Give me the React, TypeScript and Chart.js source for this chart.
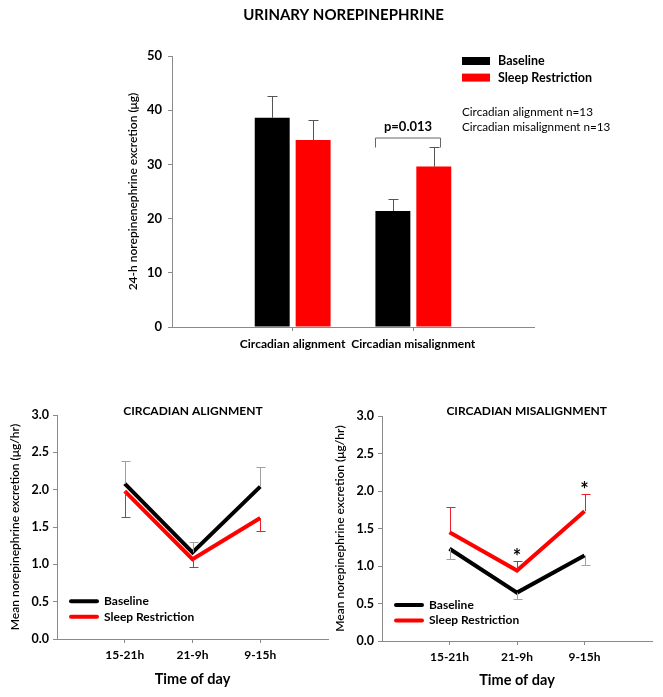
import React, { useEffect, useRef } from 'react';
import { Chart, registerables } from 'chart.js';

Chart.register(...registerables);

const FONT = 'Lato, "Liberation Sans", Arial, sans-serif';
const AXIS = '#8a8a8a';
const RED = '#ff0000';

// ---------- Top bar chart data ----------
const barCategories = ['Circadian alignment', 'Circadian misalignment'];
const barBaseline = [38.6, 21.4];
const barBaselineErr = [4.1, 2.2];
const barSleep = [34.5, 29.6];
const barSleepErr = [3.6, 3.7];
const barTicks = [0, 10, 20, 30, 40, 50];

// ---------- Bottom line charts data ----------
const timeLabels = ['15-21h', '21-9h', '9-15h'];
const alignBaseline = [2.08, 1.16, 2.04];
const alignBaselineErr = [0.3, 0.14, 0.26];
const alignSleep = [1.98, 1.07, 1.62];
const alignSleepErr = [0.35, 0.11, 0.17];
const misBaseline = [1.23, 0.645, 1.14];
const misBaselineErr = [0.13, 0.08, 0.13];
const misSleep = [1.45, 0.94, 1.73];
const misSleepErr = [0.34, 0.13, 0.23];
const misSignificant = [false, true, true];

function text(ctx: CanvasRenderingContext2D, s: string, x: number, y: number, font: string, align: CanvasTextAlign = 'left', color = '#000') {
  ctx.save();
  ctx.font = font;
  ctx.fillStyle = color;
  ctx.textAlign = align;
  ctx.textBaseline = 'middle';
  ctx.fillText(s, x, y);
  ctx.restore();
}

function font(size: number, weight = 'bold') {
  return { family: FONT, size, weight } as any;
}

type LineCfg = {
  title: string;
  baseline: number[];
  baselineErr: number[];
  baselineDir: number;
  sleep: number[];
  sleepErr: number[];
  sleepDir: number;
  significant?: boolean[];
  pad: { top: number; right: number };
  yWidth: number;
  xHeight: number;
  yTitlePad: number;
  xTitlePad: number;
  titleX: number;
  legendX: number;
  legendY: number;
};

function makeLineChart(canvas: HTMLCanvasElement, cfg: LineCfg) {
  const errPlugin = {
    id: 'errs',
    afterDatasetsDraw(chart: any) {
      const ctx = chart.ctx;
      const xs = chart.scales.x;
      const ys = chart.scales.y;
      const series = [
        { v: cfg.baseline, e: cfg.baselineErr, d: cfg.baselineDir, c: '#a0a0a0' },
        { v: cfg.sleep, e: cfg.sleepErr, d: cfg.sleepDir, c: '#e8202a' },
      ];
      ctx.save();
      ctx.lineWidth = 1;
      series.forEach((s) => {
        ctx.strokeStyle = s.c;
        s.v.forEach((v, i) => {
          const x = Math.round(xs.getPixelForValue(i + 1)) + 0.5;
          const y0 = ys.getPixelForValue(v);
          const y1 = Math.round(ys.getPixelForValue(v + s.d * s.e[i])) + 0.5;
          ctx.beginPath();
          ctx.moveTo(x, y0);
          ctx.lineTo(x, y1);
          ctx.moveTo(x - 4, y1);
          ctx.lineTo(x + 5, y1);
          ctx.stroke();
        });
      });
      ctx.restore();
    },
    afterDraw(chart: any) {
      const ctx = chart.ctx;
      const xs = chart.scales.x;
      const ys = chart.scales.y;
      text(ctx, cfg.title, cfg.titleX, 31.5, `bold 12px ${FONT}`, 'center');
      const items = [
        { label: 'Baseline', color: '#000' },
        { label: 'Sleep Restriction', color: RED },
      ];
      items.forEach((it, i) => {
        const y = cfg.legendY + i * 15.5;
        ctx.save();
        ctx.strokeStyle = it.color;
        ctx.lineWidth = 4;
        ctx.lineCap = 'round';
        ctx.beginPath();
        ctx.moveTo(cfg.legendX, y);
        ctx.lineTo(cfg.legendX + 26, y);
        ctx.stroke();
        ctx.restore();
        text(ctx, it.label, cfg.legendX + 33, y, `bold 12px ${FONT}`);
      });
      if (cfg.significant) {
        cfg.significant.forEach((sig, i) => {
          if (!sig) return;
          const x = xs.getPixelForValue(i + 1);
          const yTop = ys.getPixelForValue(cfg.sleep[i] + cfg.sleepErr[i]);
          text(ctx, '*', x, yTop - 3, `bold 20px ${FONT}`, 'center');
        });
      }
    },
  };

  return new Chart(canvas, {
    type: 'line',
    data: {
      datasets: [
        {
          label: 'Baseline',
          data: cfg.baseline.map((v, i) => ({ x: i + 1, y: v })),
          borderColor: '#000',
          borderWidth: 4,
          pointRadius: 0,
          tension: 0,
        },
        {
          label: 'Sleep Restriction',
          data: cfg.sleep.map((v, i) => ({ x: i + 1, y: v })),
          borderColor: RED,
          borderWidth: 4,
          pointRadius: 0,
          tension: 0,
        },
      ],
    },
    options: {
      animation: false,
      responsive: false,
      devicePixelRatio: 1,
      layout: { padding: { top: cfg.pad.top, right: cfg.pad.right, left: 0, bottom: 0 } },
      plugins: { legend: { display: false }, tooltip: { enabled: false } },
      scales: {
        x: {
          type: 'linear',
          min: 0,
          max: 4,
          afterBuildTicks: (s: any) => {
            s.ticks = timeLabels.map((_, i) => ({ value: i + 1 }));
          },
          afterFit: (s: any) => {
            s.height = cfg.xHeight;
          },
          grid: { drawOnChartArea: false, tickLength: 4, color: AXIS },
          border: { color: AXIS, width: 1 },
          ticks: {
            autoSkip: false,
            maxRotation: 0,
            padding: 5,
            color: '#000',
            font: font(12),
            callback: (v: any) => timeLabels[v - 1] ?? '',
          },
          title: {
            display: true,
            text: 'Time of day',
            color: '#000',
            font: font(14.5),
            padding: { top: 0, bottom: cfg.xTitlePad },
          },
        },
        y: {
          min: 0,
          max: 3,
          afterFit: (s: any) => {
            s.width = cfg.yWidth;
          },
          grid: { drawOnChartArea: false, tickLength: 4, color: AXIS },
          border: { color: AXIS, width: 1 },
          ticks: {
            stepSize: 0.5,
            padding: 4,
            color: '#000',
            font: font(12.5),
            callback: (v: any) => Number(v).toFixed(1),
          },
          title: {
            display: true,
            text: 'Mean norepinephrine excretion (μg/hr)',
            color: '#000',
            font: font(12, '600'),
            padding: { top: cfg.yTitlePad, bottom: 0 },
          },
        },
      },
    } as any,
    plugins: [errPlugin],
  });
}

function makeBarChart(canvas: HTMLCanvasElement) {
  const deco = {
    id: 'deco',
    afterDatasetsDraw(chart: any) {
      const ctx = chart.ctx;
      const ys = chart.scales.y;
      const errs = [barBaselineErr, barSleepErr];
      const vals = [barBaseline, barSleep];
      ctx.save();
      ctx.strokeStyle = '#555';
      ctx.lineWidth = 1;
      [0, 1].forEach((d) => {
        chart.getDatasetMeta(d).data.forEach((bar: any, i: number) => {
          const x = Math.round(bar.x) + 0.5;
          const y1 = Math.round(ys.getPixelForValue(vals[d][i] + errs[d][i])) + 0.5;
          ctx.beginPath();
          ctx.moveTo(x, bar.y);
          ctx.lineTo(x, y1);
          ctx.moveTo(x - 5, y1);
          ctx.lineTo(x + 5, y1);
          ctx.stroke();
        });
      });
      ctx.restore();
    },
    afterDraw(chart: any) {
      const ctx = chart.ctx;
      const xs = chart.scales.x;
      const ys = chart.scales.y;
      text(ctx, 'URINARY NOREPINEPHRINE', 343.5, 15.5, `bold 15px ${FONT}`, 'center');
      const items = [
        { label: 'Baseline', color: '#000' },
        { label: 'Sleep Restriction', color: RED },
      ];
      items.forEach((it, i) => {
        const y = 61 + i * 16.6;
        ctx.fillStyle = it.color;
        ctx.fillRect(462, y - 4, 28, 8);
        text(ctx, it.label, 498, y, `bold 12.5px ${FONT}`);
      });
      text(ctx, 'Circadian alignment n=13', 462, 112.7, `11.7px ${FONT}`);
      text(ctx, 'Circadian misalignment n=13', 462, 127.7, `11.7px ${FONT}`);
      const cx = xs.getPixelForValue(2);
      const left = Math.round(cx - 38) + 0.5;
      const right = Math.round(cx + 27) + 0.5;
      const yb = Math.round(ys.getPixelForValue(barSleep[1] + barSleepErr[1])) + 0.5;
      const yt = yb - 9.5;
      ctx.save();
      ctx.strokeStyle = '#666';
      ctx.lineWidth = 1;
      ctx.beginPath();
      ctx.moveTo(left, yb);
      ctx.lineTo(left, yt);
      ctx.lineTo(right, yt);
      ctx.lineTo(right, yb);
      ctx.stroke();
      ctx.restore();
      text(ctx, 'p=0.013', (left + right) / 2, yt - 11, `bold 13px ${FONT}`, 'center');
    },
  };

  return new Chart(canvas, {
    type: 'bar',
    data: {
      datasets: [
        {
          label: 'Baseline',
          data: barBaseline.map((v, i) => ({ x: i + 1, y: v })),
          backgroundColor: '#000',
          borderWidth: 0,
          categoryPercentage: 0.678,
          barPercentage: 0.854,
        },
        {
          label: 'Sleep Restriction',
          data: barSleep.map((v, i) => ({ x: i + 1, y: v })),
          backgroundColor: RED,
          borderWidth: 0,
          categoryPercentage: 0.678,
          barPercentage: 0.854,
        },
      ],
    },
    options: {
      animation: false,
      responsive: false,
      devicePixelRatio: 1,
      layout: { padding: { top: 56, right: 129, left: 0, bottom: 0 } },
      plugins: { legend: { display: false }, tooltip: { enabled: false } },
      scales: {
        x: {
          type: 'linear',
          min: 0,
          max: 3,
          offset: false,
          afterBuildTicks: (s: any) => {
            s.ticks = barCategories.map((_, i) => ({ value: i + 1 }));
          },
          afterFit: (s: any) => {
            s.height = 33;
          },
          grid: { drawOnChartArea: false, tickLength: 4, color: AXIS, offset: false },
          border: { color: AXIS, width: 1 },
          ticks: {
            autoSkip: false,
            maxRotation: 0,
            padding: 6,
            color: '#000',
            font: font(12),
            callback: (v: any) => barCategories[v - 1] ?? '',
          },
        },
        y: {
          min: 0,
          max: 50,
          afterBuildTicks: (s: any) => {
            s.ticks = barTicks.map((v) => ({ value: v }));
          },
          afterFit: (s: any) => {
            s.width = 172;
          },
          grid: { drawOnChartArea: false, tickLength: 4, color: AXIS },
          border: { color: AXIS, width: 1 },
          ticks: { padding: 6, color: '#000', font: font(13) },
          title: {
            display: true,
            text: '24-h norepinenephrine excretion (μg)',
            color: '#000',
            font: font(12, '600'),
            padding: { top: 126, bottom: 0 },
          },
        },
      },
    } as any,
    plugins: [deco],
  });
}

export default function App() {
  const topRef = useRef<HTMLCanvasElement>(null);
  const leftRef = useRef<HTMLCanvasElement>(null);
  const rightRef = useRef<HTMLCanvasElement>(null);

  useEffect(() => {
    const charts: Chart[] = [];
    if (topRef.current) charts.push(makeBarChart(topRef.current));
    if (leftRef.current)
      charts.push(
        makeLineChart(leftRef.current, {
          title: 'CIRCADIAN ALIGNMENT',
          baseline: alignBaseline,
          baselineErr: alignBaselineErr,
          baselineDir: 1,
          sleep: alignSleep,
          sleepErr: alignSleepErr,
          sleepDir: -1,
          pad: { top: 35, right: 3 },
          yWidth: 57,
          xHeight: 58,
          yTitlePad: 7.8,
          xTitlePad: 8.6,
          titleX: 193,
          legendX: 71,
          legendY: 221.3,
        })
      );
    if (rightRef.current)
      charts.push(
        makeLineChart(rightRef.current, {
          title: 'CIRCADIAN MISALIGNMENT',
          baseline: misBaseline,
          baselineErr: misBaselineErr,
          baselineDir: -1,
          sleep: misSleep,
          sleepErr: misSleepErr,
          sleepDir: 1,
          significant: misSignificant,
          pad: { top: 36, right: 11 },
          yWidth: 51,
          xHeight: 56,
          yTitlePad: 1.8,
          xTitlePad: 7.6,
          titleX: 195.7,
          legendX: 65,
          legendY: 225,
        })
      );
    return () => charts.forEach((c) => c.destroy());
  }, []);

  return (
    <div style={{ position: 'absolute', left: 0, top: 0, width: 663, height: 697, background: '#fff', overflow: 'hidden' }}>
      <canvas ref={topRef} width={663} height={360} style={{ position: 'absolute', left: 0, top: 0 }} />
      <canvas ref={leftRef} width={331} height={317} style={{ position: 'absolute', left: 0, top: 380 }} />
      <canvas ref={rightRef} width={332} height={317} style={{ position: 'absolute', left: 331, top: 380 }} />
    </div>
  );
}
